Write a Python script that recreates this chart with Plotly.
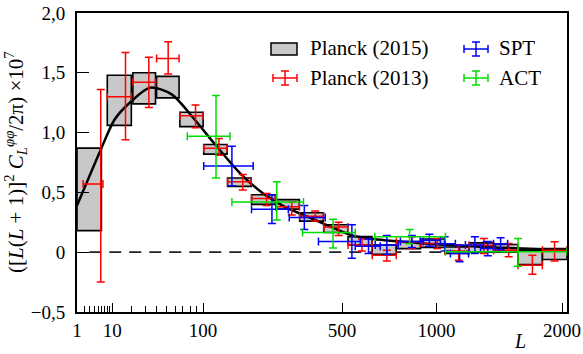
import numpy as np
import plotly.graph_objects as go

# ---------------- data ----------------
# Planck (2015) bandpowers (boxes): bin edges in L and y-range (x 1e7)
p15_lo = [1, 8, 21, 40, 66, 101, 145, 199, 264, 339, 426, 526, 638, 763, 902, 1055, 1222, 1405, 1603, 1817]
p15_hi = [6, 20, 39, 65, 100, 144, 198, 263, 338, 425, 525, 637, 762, 901, 1054, 1221, 1404, 1602, 1816, 2048]
p15_ylo = [0.18, 1.06, 1.24, 1.29, 1.05, 0.82, 0.55, 0.40, 0.36, 0.26, 0.165, 0.06, -0.017, 0.03, 0.04, -0.01, 0.003, 0.003, -0.103, -0.061]
p15_yhi = [0.87, 1.48, 1.50, 1.47, 1.17, 0.90, 0.62, 0.48, 0.44, 0.33, 0.23, 0.13, 0.06, 0.09, 0.11, 0.044, 0.078, 0.065, 0.017, 0.031]

# Planck (2013)
p13_L = [5.8, 16.5, 33, 52, 88, 128, 178, 238, 313, 394, 486, 589, 712, 850, 1004, 1148, 1330, 1525, 1727, 1929]
p13_lo = [1.8, 8, 21, 40, 66, 101, 145, 199, 264, 339, 426, 526, 638, 763, 902, 1055, 1222, 1405, 1603, 1817]
p13_hi = [6.5, 20, 39, 65, 100, 144, 198, 263, 338, 425, 525, 637, 762, 901, 1054, 1221, 1404, 1602, 1816, 2048]
p13_y = [0.57, 1.30, 1.42, 1.62, 1.14, 0.87, 0.59, 0.45, 0.38, 0.30, 0.21, 0.06, -0.025, 0.087, 0.073, 0.01, 0.059, 0.017, -0.109, 0.017]
p13_up = [0.79, 0.37, 0.21, 0.14, 0.09, 0.08, 0.06, 0.04, 0.04, 0.045, 0.04, 0.05, 0.042, 0.041, 0.042, 0.05, 0.056, 0.056, 0.084, 0.07]
p13_dn = [0.82, 0.36, 0.21, 0.13, 0.10, 0.06, 0.07, 0.06, 0.07, 0.04, 0.07, 0.05, 0.048, 0.056, 0.042, 0.077, 0.07, 0.056, 0.076, 0.09]

# SPT
spt_L = [154, 253, 355, 543, 620, 712, 850, 955, 1053, 1154, 1263, 1360, 1460]
spt_lo = [101, 199, 305, 406, 558, 653, 785, 900, 993, 1091, 1195, 1305, 1404]
spt_hi = [203, 302, 432, 581, 678, 773, 918, 1025, 1125, 1217, 1327, 1419, 1517]
spt_y = [0.72, 0.36, 0.29, 0.09, 0.05, 0.06, 0.09, 0.10, 0.07, -0.01, 0.06, 0.03, 0.07]
spt_err = [0.165, 0.12, 0.10, 0.14, 0.06, 0.08, 0.05, 0.05, 0.06, 0.07, 0.07, 0.06, 0.05]

# ACT
act_L = [122.5, 267, 463, 837, 1603]
act_lo = [76, 154, 349, 651, 1058]
act_hi = [150, 352, 558, 1058, 2048]
act_y = [0.97, 0.42, 0.165, 0.13, 0.003]
act_up = [0.34, 0.17, 0.11, 0.06, 0.112]
act_dn = [0.35, 0.15, 0.13, 0.06, 0.12]

# theory curve
th_L = [1, 6, 11, 19, 34, 56, 85, 121, 172, 229, 297, 354, 438, 536, 644, 775, 900, 1050, 1400, 2048]
th_y = [0.39, 0.87, 1.11, 1.25, 1.375, 1.32, 1.12, 0.90, 0.66, 0.49, 0.37, 0.31, 0.227, 0.145, 0.11, 0.09, 0.075, 0.062, 0.04, 0.018]

x_ticks = [1, 10, 100, 500, 1000, 2000]
x_minor = [2, 3, 4, 5, 6, 7, 8, 9, 20, 30, 40, 50, 60, 70, 80, 90]
y_ticks = [-0.5, 0, 0.5, 1.0, 1.5, 2.0]
y_ticktext = ["\u22120,5", "0", "0,5", "1,0", "1,5", "2,0"]

# ---------------- layout helpers ----------------
P = 0.41  # power-law L axis scaling


def tx(L):
    return np.asarray(L, dtype=float) ** P


W, H = 583, 354
ML, MR, MT, MB = 77, 16, 13, 42
PW, PH = W - ML - MR, H - MT - MB
FONT = "Liberation Serif, DejaVu Serif, serif"


def pxx(x):
    return (x - ML) / PW


def pyy(y):
    return (H - MB - y) / PH


fig = go.Figure()

# Planck 2015 boxes
lo, hi = tx(p15_lo), tx(p15_hi)
fig.add_trace(go.Bar(
    x=(lo + hi) / 2, width=hi - lo, base=p15_ylo,
    y=np.array(p15_yhi) - np.array(p15_ylo),
    marker=dict(color="#c8c8c8", line=dict(color="black", width=1.6)),
    showlegend=False, hoverinfo="skip"))

# theory curve
fig.add_trace(go.Scatter(
    x=tx(th_L), y=th_y, mode="lines",
    line=dict(color="black", width=2.5, shape="spline", smoothing=0.8),
    showlegend=False, hoverinfo="skip"))


def errtrace(L, Llo, Lhi, y, up, dn, color):
    c = tx(L)
    return go.Scatter(
        x=c, y=y, mode="markers",
        marker=dict(size=1, color="rgba(0,0,0,0)"),
        error_x=dict(type="data", symmetric=False, array=tx(Lhi) - c,
                     arrayminus=c - tx(Llo), color=color, thickness=1.5, width=4),
        error_y=dict(type="data", symmetric=False, array=up, arrayminus=dn,
                     color=color, thickness=1.5, width=4),
        showlegend=False, hoverinfo="skip")


fig.add_trace(errtrace(p13_L, p13_lo, p13_hi, p13_y, p13_up, p13_dn, "#ff0000"))
fig.add_trace(errtrace(spt_L, spt_lo, spt_hi, spt_y, spt_err, spt_err, "#0000ff"))
fig.add_trace(errtrace(act_L, act_lo, act_hi, act_y, act_up, act_dn, "#00dd00"))

shapes = [
    dict(type="line", xref="paper", yref="y", x0=0.025, x1=1, y0=0, y1=0,
         line=dict(color="#222222", width=1.8, dash="12px,8px"), layer="below"),
]

# legend (custom)
shapes.append(dict(type="rect", xref="paper", yref="paper",
                   x0=pxx(271), x1=pxx(297), y0=pyy(55), y1=pyy(43),
                   fillcolor="#c8c8c8", line=dict(color="black", width=1.5)))


def eb_icon(cx, cy, color):
    out = []
    lw = dict(color=color, width=1.5)
    out.append(dict(type="line", xref="paper", yref="paper", x0=pxx(cx - 12), x1=pxx(cx + 12), y0=pyy(cy), y1=pyy(cy), line=lw))
    for sx in (cx - 12, cx + 12):
        out.append(dict(type="line", xref="paper", yref="paper", x0=pxx(sx), x1=pxx(sx), y0=pyy(cy - 4), y1=pyy(cy + 4), line=lw))
    out.append(dict(type="line", xref="paper", yref="paper", x0=pxx(cx), x1=pxx(cx), y0=pyy(cy - 7), y1=pyy(cy + 7), line=lw))
    for sy in (cy - 7, cy + 7):
        out.append(dict(type="line", xref="paper", yref="paper", x0=pxx(cx - 4), x1=pxx(cx + 4), y0=pyy(sy), y1=pyy(sy), line=lw))
    return out


shapes += eb_icon(285, 78, "#ff0000")
shapes += eb_icon(476, 49, "#0000ff")
shapes += eb_icon(476, 78, "#00dd00")

annotations = []
for txt, x, y in [("Planck (2015)", 308, 48), ("Planck (2013)", 308, 78),
                  ("SPT", 497, 48), ("ACT", 497, 78)]:
    annotations.append(dict(text=txt, xref="paper", yref="paper", x=pxx(x), y=pyy(y),
                            xanchor="left", yanchor="middle", showarrow=False,
                            font=dict(family=FONT, size=21, color="black")))

annotations.append(dict(
    text="([<i>L</i>(<i>L</i> + 1)]<sup>2</sup> <i>C</i><sub><i>L</i></sub><sup><i>φφ</i></sup>/2π) ×10<sup>7</sup>",
    xref="paper", yref="paper", x=pxx(15), y=pyy(162), textangle=-90,
    xanchor="center", yanchor="middle", showarrow=False,
    font=dict(family=FONT, size=21, color="black")))
annotations.append(dict(text="<i>L</i>", xref="paper", yref="paper", x=pxx(520), y=pyy(341),
                        xanchor="center", yanchor="middle", showarrow=False,
                        font=dict(family=FONT, size=20, color="black")))

fig.update_layout(
    width=W, height=H, margin=dict(l=ML, r=MR, t=MT, b=MB, pad=0),
    paper_bgcolor="white", plot_bgcolor="white", showlegend=False,
    barmode="overlay", shapes=shapes, annotations=annotations,
    font=dict(family=FONT, color="black"),
    xaxis=dict(range=[tx(1), tx(2048)], tickmode="array", tickvals=tx(x_ticks),
               ticktext=[str(v) for v in x_ticks], ticks="inside", ticklen=9,
               tickwidth=1.3, tickcolor="black", showline=True, linewidth=2,
               linecolor="black", mirror=True, showgrid=False, zeroline=False,
               tickfont=dict(family=FONT, size=19, color="black"),
               ticklabelstandoff=0, automargin=False,
               minor=dict(tickmode="array", tickvals=tx(x_minor), ticks="inside", ticklen=6,
                          tickwidth=1, tickcolor="black", showgrid=False)),
    yaxis=dict(range=[-0.5, 2.0], tickmode="array", tickvals=y_ticks, ticktext=y_ticktext,
               ticks="inside", ticklen=12, tickwidth=1.3, tickcolor="black",
               showline=True, linewidth=2, linecolor="black", mirror=True,
               showgrid=False, zeroline=False, automargin=False,
               tickfont=dict(family=FONT, size=19, color="black"),
               ticklabelstandoff=6),
)

fig.write_html("out.html")
